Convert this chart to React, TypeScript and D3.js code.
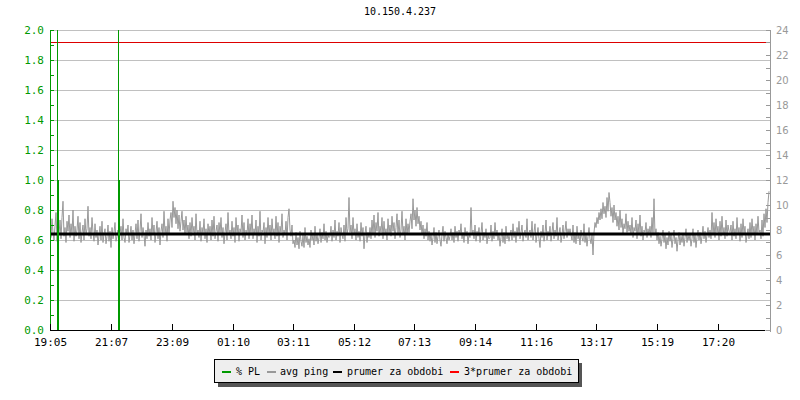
import React from "react";
import * as d3 from "d3";

const title = "10.150.4.237";
const startLabel = "19:05";
const sampleMinutes = 2;
const pingValues: number[] = [
  8.6,7.4,8.9,7.8,7.2,8.3,9.4,7.1,8.0,7.6,8.8,7.3,9.0,10.3,7.5,8.2,7.0,8.7,7.9,9.2,
  7.4,8.5,7.7,9.6,7.1,8.3,7.5,8.0,9.1,7.3,8.6,7.0,7.8,8.4,7.2,8.9,7.6,8.1,9.9,7.5,
  8.2,7.3,9.0,7.8,7.1,8.5,7.4,8.0,6.8,7.6,8.3,7.2,8.7,7.0,7.7,8.1,6.9,7.5,8.4,7.1,
  7.9,6.6,8.2,7.3,7.8,8.6,7.1,7.5,8.0,6.9,7.7,8.3,7.2,8.9,7.4,7.0,8.1,7.6,8.4,7.0,
  7.6,8.3,7.2,8.0,6.9,7.7,8.5,7.3,8.8,7.1,7.9,9.3,7.4,8.2,7.6,6.7,8.0,7.3,8.6,7.5,
  8.1,7.2,9.0,7.6,8.4,7.0,7.8,8.7,7.3,8.2,6.8,7.9,8.5,7.4,9.5,7.7,8.3,7.1,8.9,7.6,
  8.8,9.4,8.2,10.3,9.0,9.8,8.5,9.6,8.1,9.2,7.9,8.7,9.5,8.0,8.8,7.6,9.1,7.8,8.4,7.3,
  8.6,7.5,9.0,7.8,8.3,7.2,9.3,7.6,8.0,7.4,8.7,7.1,8.2,7.7,8.9,7.3,8.1,7.0,8.5,7.6,
  8.3,7.2,8.8,7.5,9.1,7.3,7.9,8.4,7.1,8.6,7.7,9.0,7.4,8.2,6.9,7.8,8.5,7.2,9.4,7.6,
  8.0,7.3,8.7,7.5,8.2,7.0,9.0,7.7,8.4,7.1,8.1,7.8,9.2,7.4,8.6,7.2,8.0,7.6,8.9,7.3,
  8.5,7.7,9.2,7.3,8.1,7.6,8.8,7.0,8.3,7.5,9.5,7.2,8.0,7.8,8.6,6.9,8.2,7.4,9.0,7.6,
  8.4,7.2,8.9,7.7,8.1,7.3,9.1,7.5,8.6,7.0,8.3,7.8,9.3,7.4,8.0,7.6,8.7,7.2,9.0,9.7,
  8.0,7.5,8.4,6.9,7.2,6.6,7.8,6.8,7.4,6.5,7.9,7.1,6.7,7.6,6.6,8.2,7.0,7.5,6.8,7.3,
  6.6,8.0,7.2,7.6,6.8,8.3,7.1,7.7,6.9,7.4,8.1,7.0,7.8,7.3,8.5,7.2,7.9,7.0,7.6,7.4,
  7.5,8.3,7.1,8.0,7.4,8.8,7.2,7.9,7.5,8.6,7.0,8.2,7.6,7.3,8.4,7.1,9.0,7.7,8.1,10.6,
  7.8,8.4,7.3,9.0,7.6,8.1,7.2,8.5,7.4,7.9,7.1,8.6,7.5,8.2,6.5,7.7,8.3,7.0,7.8,7.4,
  8.2,7.3,8.8,7.6,9.2,7.4,8.6,7.9,9.4,7.5,8.3,7.8,9.0,7.3,8.7,7.6,8.1,7.2,8.9,7.7,
  8.4,7.5,9.1,7.9,8.6,7.3,8.2,9.3,7.6,8.8,7.4,8.0,9.5,7.7,8.3,7.2,8.9,7.6,8.5,7.8,
  8.7,9.3,8.1,10.5,8.8,9.6,8.3,9.8,8.5,9.1,8.0,8.7,7.6,8.4,7.3,8.1,7.5,8.6,7.2,7.9,
  7.1,7.7,6.8,7.4,8.2,7.0,7.8,6.9,7.5,8.0,7.2,6.7,7.6,8.3,7.1,7.9,7.4,6.9,7.7,7.2,
  7.5,8.1,7.2,7.8,7.0,8.3,7.4,7.9,7.1,8.0,7.6,8.5,7.3,7.8,7.0,8.2,7.5,7.9,6.9,7.7,
  7.4,9.8,7.6,8.0,7.3,8.4,7.1,7.9,7.5,8.2,7.0,7.7,8.6,7.2,7.8,7.4,8.1,6.9,7.6,7.3,
  7.4,8.4,7.1,7.9,7.3,8.6,7.5,8.0,7.2,7.7,6.7,7.4,8.1,7.0,7.8,6.9,8.3,7.3,7.7,7.1,
  7.6,8.0,7.2,8.5,7.4,7.9,7.0,8.2,7.5,8.7,7.3,7.8,8.4,7.1,7.7,8.0,7.4,8.9,7.2,7.8,
  8.0,7.4,8.7,7.2,7.8,8.5,7.0,7.6,8.2,7.3,6.6,7.9,7.4,8.4,7.1,7.7,8.8,7.2,7.9,7.5,
  8.3,7.1,7.8,8.6,7.3,8.0,7.5,9.0,7.2,7.7,8.2,7.0,7.6,8.4,7.3,7.9,8.7,7.4,8.1,7.6,
  8.1,7.6,7.2,8.4,7.0,7.8,6.9,8.3,7.3,7.6,6.8,8.0,7.4,7.1,8.5,7.0,7.7,6.7,7.5,8.2,
  7.3,6.9,7.6,6.0,7.8,8.6,8.2,9.0,8.5,9.4,8.8,9.7,8.9,10.2,9.3,9.9,9.0,10.6,9.5,11.0,
  10.2,9.1,9.8,8.6,10.0,8.8,9.4,8.3,9.1,8.0,9.6,8.2,8.9,7.7,8.5,8.1,9.3,7.8,8.7,7.9,
  8.4,7.6,9.0,7.4,8.2,7.9,8.8,7.3,8.5,7.7,9.2,7.5,8.3,7.2,8.0,7.8,8.6,7.4,8.1,7.6,
  8.3,7.4,9.0,7.7,10.5,7.6,8.1,7.2,7.8,6.9,7.5,6.7,7.3,8.0,7.0,7.6,6.5,7.4,6.8,7.9,
  7.1,7.6,6.6,7.3,8.0,6.9,7.4,6.3,7.2,7.8,6.8,7.5,7.0,7.7,6.7,7.4,8.1,7.0,7.6,7.2,
  7.6,6.7,7.3,8.1,7.0,7.7,6.6,7.4,8.0,7.2,7.8,6.9,7.5,8.3,7.3,7.9,7.0,7.6,8.2,7.4,
  8.0,7.3,9.4,7.6,8.6,7.4,8.9,7.8,8.3,7.2,8.7,7.5,9.1,7.6,8.2,7.3,8.8,7.5,8.4,7.9,
  7.8,8.4,7.2,8.7,7.5,8.1,7.3,9.0,7.6,8.2,7.1,8.5,7.4,8.9,7.7,8.3,7.0,7.6,8.1,7.3,
  8.6,7.4,8.9,7.7,8.3,7.2,8.5,7.6,9.1,7.8,8.0,7.3,8.8,7.5,9.3,8.2,9.7,8.6,10.2,11.1,
];
const plTimes = ["19:19", "19:21", "21:21", "21:23"];
const plValues = [3.0, 1.0, 3.0, 1.0];
const meanPing = 7.68;
const tickLabels = ["19:05","21:07","23:09","01:10","03:11","05:12","07:13","09:14","11:16","13:17","15:19","17:20"];
const leftTicks = [0, 0.2, 0.4, 0.6, 0.8, 1.0, 1.2, 1.4, 1.6, 1.8, 2.0];
const rightTicks = [0, 2, 4, 6, 8, 10, 12, 14, 16, 18, 20, 22, 24];
const legendItems = ["% PL", "avg ping", "prumer za obdobi", "3*prumer za obdobi"];
const legendColors = ["#009900", "#999999", "#000000", "#ff0000"];

const base = new Date(2020, 0, 1, 0, 0);
function parseT(lbl: string): Date {
  const [h, m] = lbl.split(":").map(Number);
  const [sh, sm] = startLabel.split(":").map(Number);
  let mins = h * 60 + m;
  const smins = sh * 60 + sm;
  if (mins < smins) mins += 1440;
  return new Date(base.getTime() + mins * 60000);
}

export default function App() {
  const L = 50, R = 770, T = 30, B = 330;
  const start = parseT(startLabel);
  const end = new Date(start.getTime() + 1440 * 60000);
  const x = d3.scaleTime().domain([start, end]).range([L, R]);
  const yL = d3.scaleLinear().domain([0, 2]).range([B, T]);
  const yR = d3.scaleLinear().domain([0, 24]).range([B, T]);
  const pts = pingValues.map((v, i) => ({ t: new Date(start.getTime() + i * sampleMinutes * 60000), v }));
  const line = d3.line<{ t: Date; v: number }>().x(d => x(d.t)).y(d => yR(d.v));
  const mono = "'DejaVu Sans Mono', monospace";
  const minorL = d3.range(0, 2.0001, 0.1);
  const minorR = d3.range(0, 25, 1);

  const legX = [222, 267, 333, 450];
  const legTextX = [236, 280, 347, 464];

  return (
    <svg width={800} height={400} style={{ position: "absolute", left: 0, top: 0, background: "#fff" }}>
      <defs>
        <clipPath id="plot"><rect x={L} y={T} width={R - L} height={B - T} /></clipPath>
      </defs>
      <text x={400} y={15} textAnchor="middle" fontFamily={mono} fontSize={10} fill="#000">{title}</text>
      {leftTicks.map(t => (
        <line key={"g" + t} x1={L} x2={R} y1={Math.round(yL(t)) + 0.5} y2={Math.round(yL(t)) + 0.5} stroke="#c0c0c0" strokeWidth={1} />
      ))}
      <g clipPath="url(#plot)">
        <path d={line(pts) || ""} fill="none" stroke="#999999" strokeWidth={1} />
        <line x1={L} x2={R} y1={yR(meanPing)} y2={yR(meanPing)} stroke="#000" strokeWidth={3} />
        <line x1={L} x2={R} y1={Math.round(yR(meanPing * 3)) + 0.5} y2={Math.round(yR(meanPing * 3)) + 0.5} stroke="#dd0000" strokeWidth={1} />
        {plTimes.map((tl, i) => {
          const px = Math.round(x(parseT(tl))) + 0.5;
          return <line key={"pl" + i} x1={px} x2={px} y1={B} y2={yL(plValues[i])} stroke="#009900" strokeWidth={1} />;
        })}
      </g>
      <line x1={L + 0.5} x2={L + 0.5} y1={T} y2={B} stroke="#009900" strokeWidth={1} />
      {minorL.map(t => (
        <line key={"ml" + t} x1={L} x2={L + 4} y1={Math.round(yL(t)) + 0.5} y2={Math.round(yL(t)) + 0.5} stroke="#009900" />
      ))}
      {leftTicks.map(t => (
        <text key={"lt" + t} x={44} y={yL(t) + 4} textAnchor="end" fontFamily={mono} fontSize={11} fill="#009900">{t.toFixed(1)}</text>
      ))}
      <line x1={R + 0.5} x2={R + 0.5} y1={T} y2={B + 2} stroke="#999999" strokeWidth={1} />
      {minorR.map(t => (
        <line key={"mr" + t} x1={R - 4} x2={R} y1={Math.round(yR(t)) + 0.5} y2={Math.round(yR(t)) + 0.5} stroke="#999999" />
      ))}
      {rightTicks.map(t => (
        <text key={"rt" + t} x={776} y={yR(t) + 4} textAnchor="start" fontFamily="'DejaVu Sans', sans-serif" fontSize={10} fill="#999999">{t}</text>
      ))}
      <line x1={L} x2={765} y1={B + 0.5} y2={B + 0.5} stroke="#000" strokeWidth={1} />
      {tickLabels.map(tl => {
        const px = Math.round(x(parseT(tl))) + 0.5;
        return (
          <g key={"bt" + tl}>
            <line x1={px} x2={px} y1={B - 6} y2={B} stroke="#000" />
            <text x={px} y={B + 16} textAnchor="middle" fontFamily={mono} fontSize={11} fill="#000">{tl}</text>
          </g>
        );
      })}
      <rect x={218} y={363} width={364} height={24} fill="#555" />
      <rect x={214.5} y={359.5} width={364} height={23} fill="#eeeeee" stroke="#000" strokeWidth={1} />
      {legendItems.map((it, i) => (
        <g key={"lg" + i}>
          <line x1={legX[i]} x2={legX[i] + 9} y1={372} y2={372} stroke={legendColors[i]} strokeWidth={2} />
          <text x={legTextX[i]} y={375} fontFamily={mono} fontSize={10} fill="#000">{it}</text>
        </g>
      ))}
    </svg>
  );
}
